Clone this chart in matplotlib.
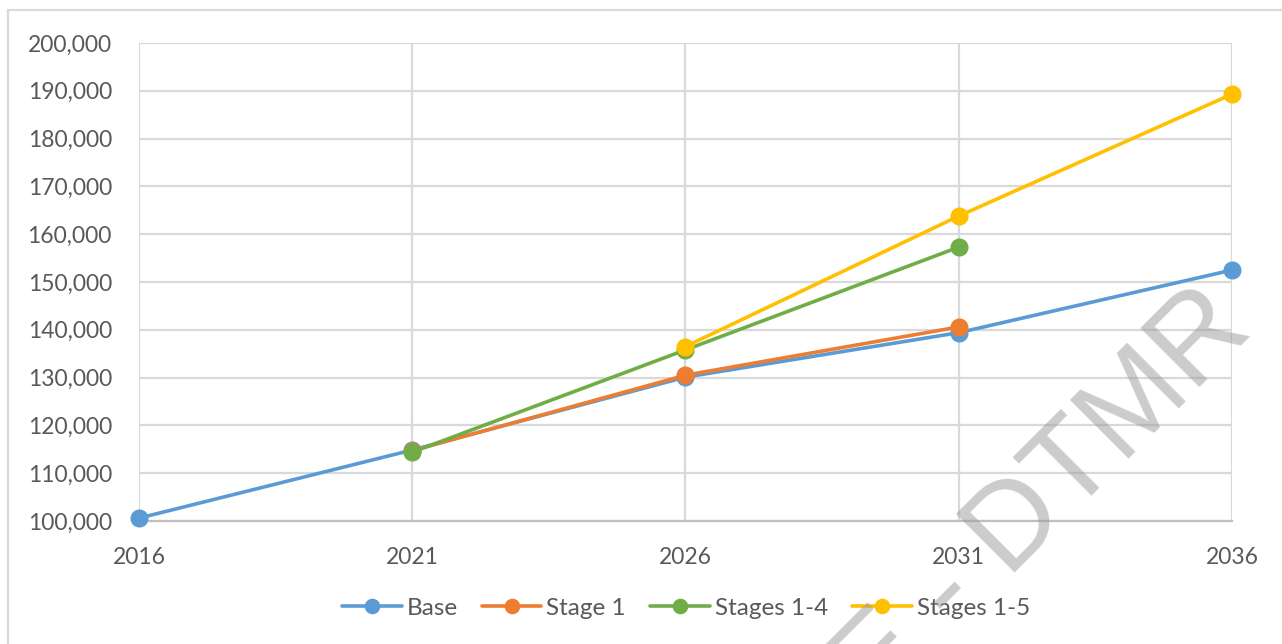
import numpy as np
import matplotlib.pyplot as plt
from matplotlib.patches import Rectangle
from matplotlib.ticker import FuncFormatter

years = [2016, 2021, 2026, 2031, 2036]
base = [100600, 114850, 130100, 139400, 152500]
stage1 = [np.nan, 114700, 130500, 140600, np.nan]
stages14 = [np.nan, 114400, 135800, 157300, np.nan]
stages15 = [np.nan, np.nan, 136500, 163800, 189300]

series = [('Base', base, '#5B9BD5'),
          ('Stage 1', stage1, '#ED7D31'),
          ('Stages 1-4', stages14, '#70AD47'),
          ('Stages 1-5', stages15, '#FFC000')]

W, H = 1282, 644
fig = plt.figure(figsize=(W / 100, H / 100), dpi=100)
plt.rcParams['font.family'] = ['Lato', 'DejaVu Sans']
txt = '#595959'
grid = '#d9d9d9'

ax = fig.add_axes([139 / W, 1 - 521 / H, (1232 - 139) / W, (521 - 43) / H])
for name, vals, col in series:
    ax.plot(years, vals, color=col, lw=2.6, marker='o', ms=12, label=name,
            solid_capstyle='round', zorder=3, clip_on=False)

ax.set_xlim(2016, 2036)
ax.set_ylim(100000, 200000)
ax.set_xticks(years)
ax.set_yticks(np.arange(100000, 200001, 10000))
ax.yaxis.set_major_formatter(FuncFormatter(lambda v, p: f'{int(v):,}'))
ax.grid(True, color=grid, lw=1.6)
ax.set_axisbelow(True)
for s in ax.spines.values():
    s.set_visible(False)
ax.spines['bottom'].set_visible(True)
ax.spines['bottom'].set_color('#bfbfbf')
ax.spines['bottom'].set_linewidth(1.6)
ax.tick_params(length=0, labelsize=16.5, colors=txt)
ax.tick_params(axis='y', pad=19.5)
ax.tick_params(axis='x', pad=19)

leg = fig.legend(loc='center', bbox_to_anchor=(0.535, 1 - 608 / H), ncol=4,
                 frameon=False, fontsize=17.5, handlelength=2.45, handletextpad=0.2,
                 columnspacing=1.0, markerscale=0.85, labelcolor=txt)

# outer chart border
fig.patches.append(Rectangle((8 / W, -0.1), 1.2, 1 - 10 / H + 0.1,
                             transform=fig.transFigure, fill=False,
                             ec=grid, lw=1.6))

# watermark
fig.text(1255 / W, 1 - 332 / H, 'RTI DL RELEASE - DTMR', rotation=45,
         rotation_mode='anchor', ha='right', va='baseline', fontsize=87,
         family='Liberation Sans', color='#999999', alpha=0.5, zorder=10)

fig.savefig('out.png', dpi=100)
